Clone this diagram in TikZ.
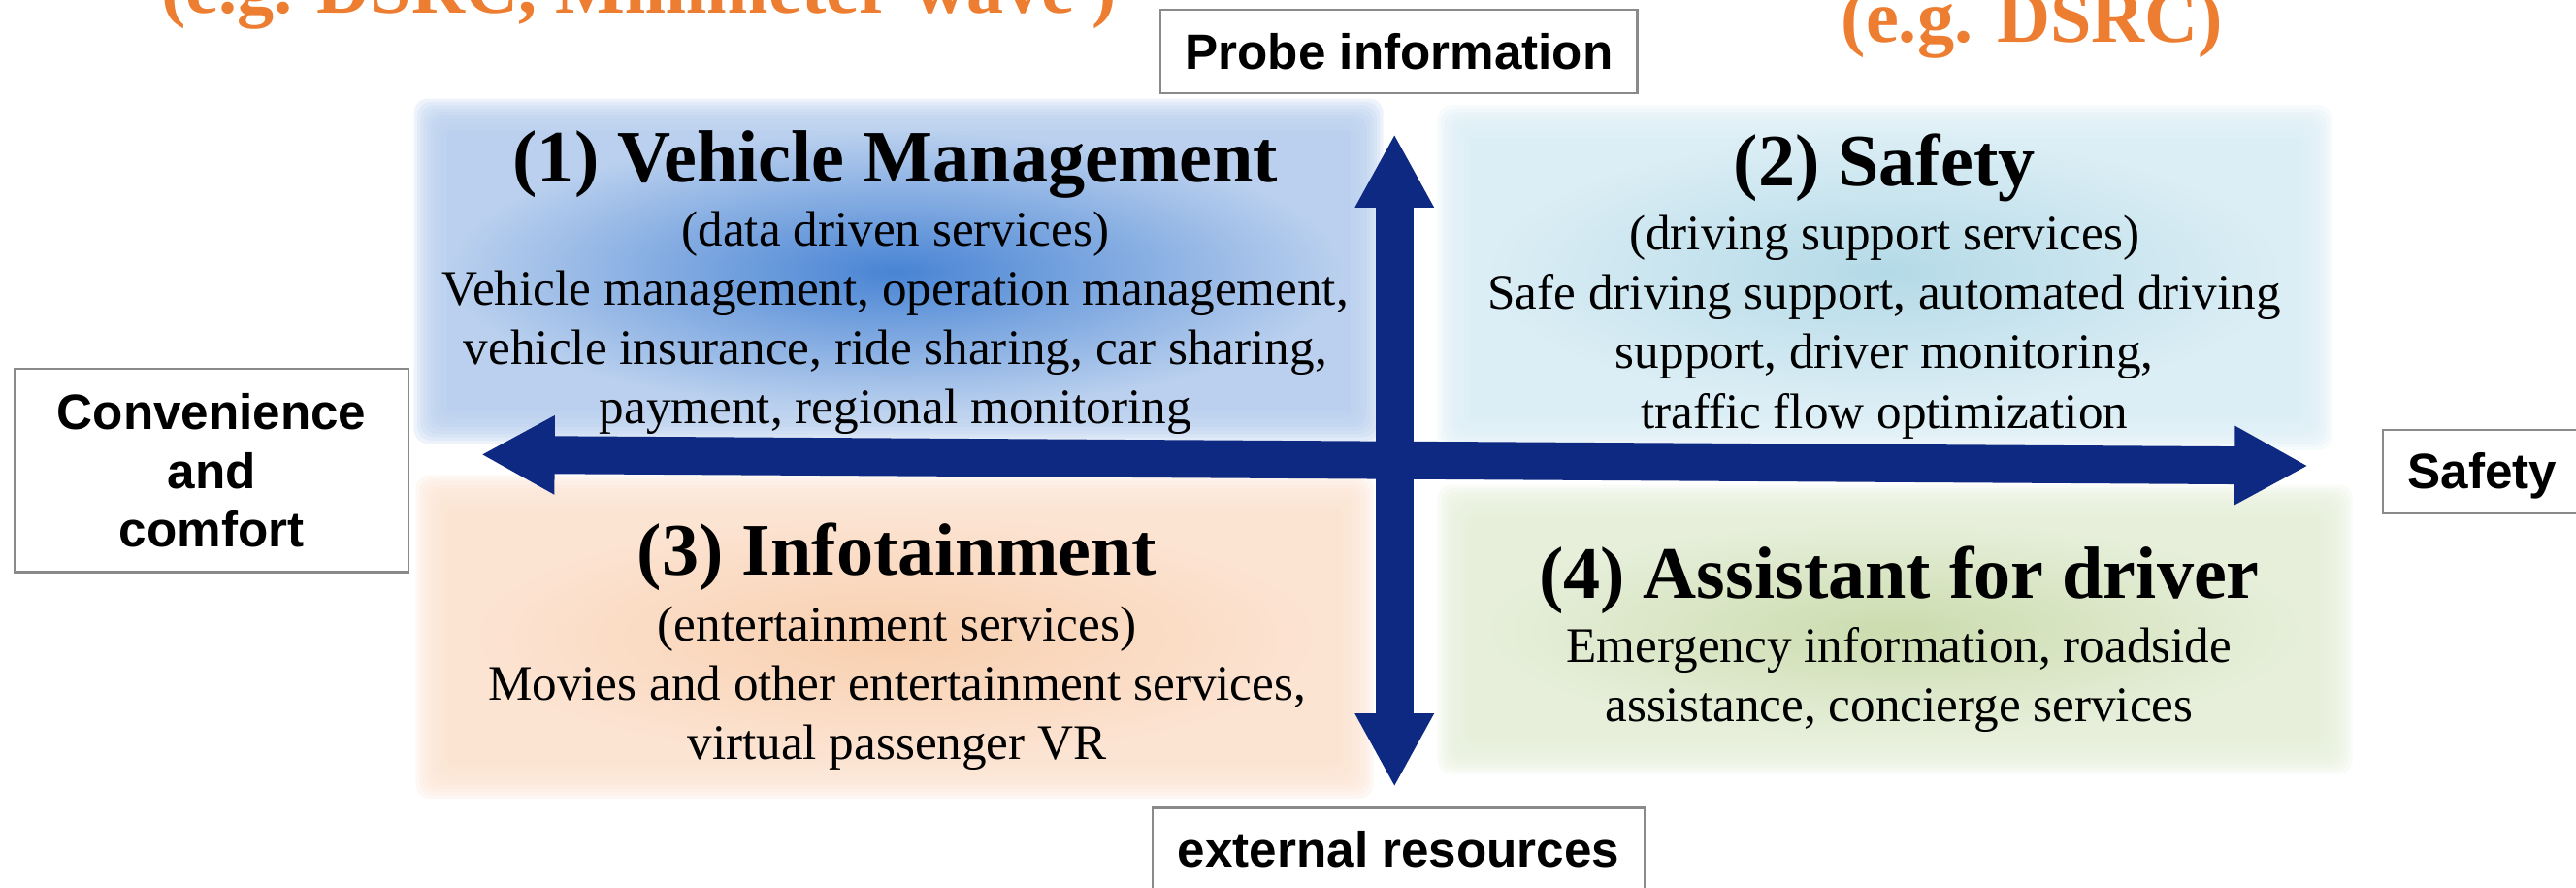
\documentclass[tikz,border=0pt]{standalone}
\usepackage{fontspec}
\setmainfont{Liberation Serif}
\setsansfont{Liberation Sans}
\usetikzlibrary{arrows.meta}

\definecolor{axisblue}{RGB}{14,41,130}
\definecolor{egorange}{RGB}{237,125,49}
\definecolor{boxgray}{RGB}{138,138,138}
\definecolor{vmedge}{RGB}{186,208,238}
\definecolor{vmcore}{RGB}{72,132,212}
\definecolor{sfedge}{RGB}{220,238,245}
\definecolor{sfcore}{RGB}{180,218,231}
\definecolor{ifedge}{RGB}{252,228,211}
\definecolor{ifcore}{RGB}{248,207,174}
\definecolor{asedge}{RGB}{231,239,219}
\definecolor{ascore}{RGB}{203,220,174}

\begin{document}
\begin{tikzpicture}[x=0.025cm, y=-0.025cm,
	axisarrow/.style={draw=axisblue, line width=0.575cm, {Triangle[length=1.12cm,width=1.12cm]}-{Triangle[length=1.12cm,width=1.12cm]}},
	quadtitle/.style={anchor=base, font=\fontsize{32}{38}\selectfont\bfseries},
	bodytext/.style={anchor=base, font=\fontsize{21.5}{25.5}\selectfont},
	egtext/.style={anchor=base, text=egorange, font=\fontsize{32}{38}\selectfont\bfseries},
	labelbox/.style={draw=boxgray, line width=0.9pt, fill=white, inner xsep=0.3cm, inner ysep=0.3cm,
		font=\sffamily\bfseries\fontsize{21.5}{25.5}\selectfont},
	fade/.style={fill=#1, opacity=0.25, rounded corners=6pt}]
		\useasboundingbox (0,0) rectangle (1568,540);
		
		%quadrant backgrounds
		\foreach \d in {1,...,10}{
			\fill[fade=vmedge] (272-2*\d,80-2*\d) rectangle (822+2*\d,250+2*\d);
			\fill[fade=sfedge] (895-2*\d,84-2*\d) rectangle (1400+2*\d,254+2*\d);
			\fill[fade=ifedge] (273-2*\d,309-2*\d) rectangle (816+2*\d,466+2*\d);
			\fill[fade=asedge] (895-2*\d,315-2*\d) rectangle (1412+2*\d,451+2*\d);
		}
		\fill[vmedge] (272,80) rectangle (822,250);
		\fill[sfedge] (895,84) rectangle (1400,254);
		\fill[ifedge] (273,309) rectangle (816,466);
		\fill[asedge] (895,315) rectangle (1412,451);
		\shade[inner color=vmcore, outer color=vmedge] (545,165) ellipse [x radius=6.8cm, y radius=2.12cm];
		\shade[inner color=sfcore, outer color=sfedge] (1147,165) ellipse [x radius=6.2cm, y radius=2.1cm];
		\shade[inner color=ifcore, outer color=ifedge] (545,388) ellipse [x radius=6.6cm, y radius=1.9cm];
		\shade[inner color=ascore, outer color=asedge] (1153,383) ellipse [x radius=6.3cm, y radius=1.65cm];
		
		%axes
		\coordinate (vtop) at (848.8,81.5);
		\coordinate (vbot) at (848.8,479);
		\coordinate (hleft) at (292.8,276.6);
		\coordinate (hright) at (1405,283.5);
		\draw[axisarrow] (vtop) -- (vbot);
		\draw[axisarrow] (hleft) -- (hright);
		
		%axis labels
		\node (probe) at (851.6,5.3) [labelbox, anchor=north, minimum width=7.25cm, text height=0.61cm, text depth=0.06cm]{Probe information};
		\node (extres) at (851.4,491) [labelbox, anchor=north, minimum width=7.48cm, text height=0.6cm, text depth=1cm]{external resources};
		\node (safe) at (1450,261) [labelbox, anchor=north west, text width=3cm, align=left, inner xsep=0.375cm, text height=0.6cm, text depth=0.07cm]{Safety};
		\node (conv) at (128.8,286.3) [labelbox, align=center, minimum width=5.99cm, minimum height=3.09cm]{Convenience\\and\\comfort};
		
		%communication notes
		\node (egleft) at (389,7.9) [egtext]{(e.g. DSRC, Millimeter-wave )};
		\node (egright) at (1237,25.6) [egtext]{(e.g. DSRC)};
		
		%(1)
		\node (vmtitle) at (545,111) [quadtitle]{(1) Vehicle Management};
		\foreach \txt [count=\i] in {{(data driven services)}, {Vehicle management, operation management,}, {vehicle insurance, ride sharing, car sharing,}, {payment, regional monitoring}}{
			\node (vm\i) at (545,{149.6+36*(\i-1)}) [bodytext]{\txt};
		}
		
		%(2)
		\node (sftitle) at (1147,113) [quadtitle]{(2) Safety};
		\foreach \txt [count=\i] in {{(driving support services)}, {Safe driving support, automated driving}, {support, driver monitoring,}, {traffic flow optimization}}{
			\node (sf\i) at (1147,{152+36.2*(\i-1)}) [bodytext]{\txt};
		}
		
		%(3)
		\node (iftitle) at (546,350) [quadtitle]{(3) Infotainment};
		\foreach \txt [count=\i] in {{(entertainment services)}, {Movies and other entertainment services,}, {virtual passenger VR}}{
			\node (if\i) at (546,{389.8+36.3*(\i-1)}) [bodytext]{\txt};
		}
		
		%(4)
		\node (astitle) at (1156,364) [quadtitle]{(4) Assistant for driver};
		\foreach \txt [count=\i] in {{Emergency information, roadside}, {assistance, concierge services}}{
			\node (as\i) at (1156,{403+36*(\i-1)}) [bodytext]{\txt};
		}
\end{tikzpicture}
\end{document}
